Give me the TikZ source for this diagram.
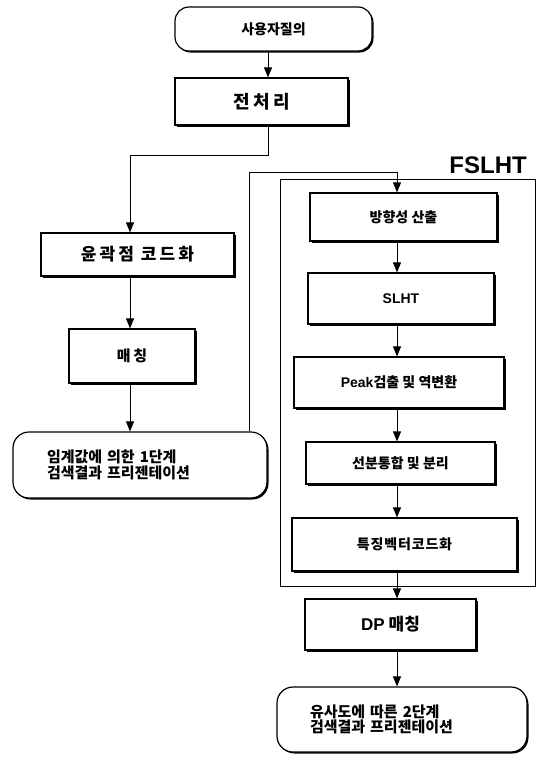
\documentclass[tikz,border=0pt]{standalone}
\usepackage{fontspec}
\setmainfont{Noto Sans CJK KR}
\newfontfamily\krls{Noto Sans CJK KR}[LetterSpace=18]
\newfontfamily\krlt{Noto Sans CJK KR}[LetterSpace=6]
\newfontfamily\lat{Liberation Sans}
\usetikzlibrary{arrows.meta,shadows}
\tikzset{
  box/.style={draw, line width=1.2pt, fill=white, inner sep=2pt,
    font=\bfseries\fontsize{14}{15}\selectfont,
    drop shadow={shadow xshift=1.5pt, shadow yshift=-1.5pt, fill=black, opacity=1}},
  rbox/.style={box, rounded corners=14pt},
  arr/.style={line width=1pt, -{Triangle[length=10pt,width=8pt]}},
  fslframe/.style={draw, line width=0.9pt},
}
\begin{document}
\begin{tikzpicture}[x=1pt,y=-1pt]
\useasboundingbox (0,0) rectangle (545,758);
% left column
\node[rbox, minimum width=197pt, minimum height=44pt] (Q) at (273.5,29) {사용자질의};
\node[box, minimum width=173pt, minimum height=47pt, font=\krls\bfseries\fontsize{18}{20}\selectfont] (P) at (261.5,101.5) {전처리};
\node[box, minimum width=193pt, minimum height=43pt, font=\krls\bfseries\fontsize{17}{19}\selectfont] (C) at (137.5,254.5) {윤곽점 코드화};
\node[box, minimum width=126pt, minimum height=54pt, font=\krls\bfseries\fontsize{15}{17}\selectfont] (M) at (132,356) {매칭};
\node[rbox, rounded corners=16pt, minimum width=254pt, minimum height=66pt, text width=186pt, align=left, inner sep=0pt, font=\bfseries\fontsize{15}{15.5}\selectfont] (R1) at (140,465) {임계값에 의한 1단계\\검색결과 프리젠테이션};
% FSLHT frame
\node[fslframe, minimum width=255pt, minimum height=407pt] (frame) at (407.5,382.5) {};
\node[anchor=base east, inner sep=0pt, font=\lat\bfseries\fontsize{24}{26}\selectfont] (lbl) at (527,173) {FSLHT};
\node[box, minimum width=187pt, minimum height=48pt] (B1) at (403.5,217) {방향성 산출};
\node[box, minimum width=186pt, minimum height=51pt, font=\lat\bfseries\fontsize{14}{16}\selectfont] (B2) at (401,298.5) {SLHT};
\node[box, minimum width=210pt, minimum height=51pt] (B3) at (399,382.5) {{\lat Peak}검출 및 역변환};
\node[box, minimum width=189pt, minimum height=42pt] (B4) at (400.5,463) {선분통합 및 분리};
\node[box, minimum width=225pt, minimum height=53pt, font=\krlt\bfseries\fontsize{14}{16}\selectfont] (B5) at (404.5,544.5) {특징벡터코드화};
\node[box, minimum width=171pt, minimum height=51pt, font=\bfseries\fontsize{17}{19}\selectfont] (DP) at (390.5,624.5) {{\lat DP} 매칭};
\node[rbox, rounded corners=16pt, minimum width=250pt, minimum height=65pt, text width=184pt, align=left, inner sep=0pt, font=\bfseries\fontsize{15}{15.5}\selectfont] (R2) at (402,719.5) {유사도에 따른 2단계\\검색결과 프리젠테이션};
% connector coordinates
\coordinate (a1) at (268,0);
\coordinate (k1) at (130,155);
\coordinate (k2) at (249,172);
\coordinate (k3) at (397,0);
% connectors
\draw[arr] (Q.south -| a1) -- (P.north -| a1);
\draw[arr] (P.south -| a1) |- (k1) -- (C.north -| k1);
\draw[arr] (C.south -| k1) -- (M.north -| k1);
\draw[arr] (M.south -| k1) -- (R1.north -| k1);
\draw[arr] (R1.north -| k2) -- (k2) -| (B1.north -| k3);
\draw[arr] (B1.south -| k3) -- (B2.north -| k3);
\draw[arr] (B2.south -| k3) -- (B3.north -| k3);
\draw[arr] (B3.south -| k3) -- (B4.north -| k3);
\draw[arr] (B4.south -| k3) -- (B5.north -| k3);
\draw[arr] (B5.south -| k3) -- (DP.north -| k3);
\draw[arr] (DP.south -| k3) -- (R2.north -| k3);
\end{tikzpicture}
\end{document}
